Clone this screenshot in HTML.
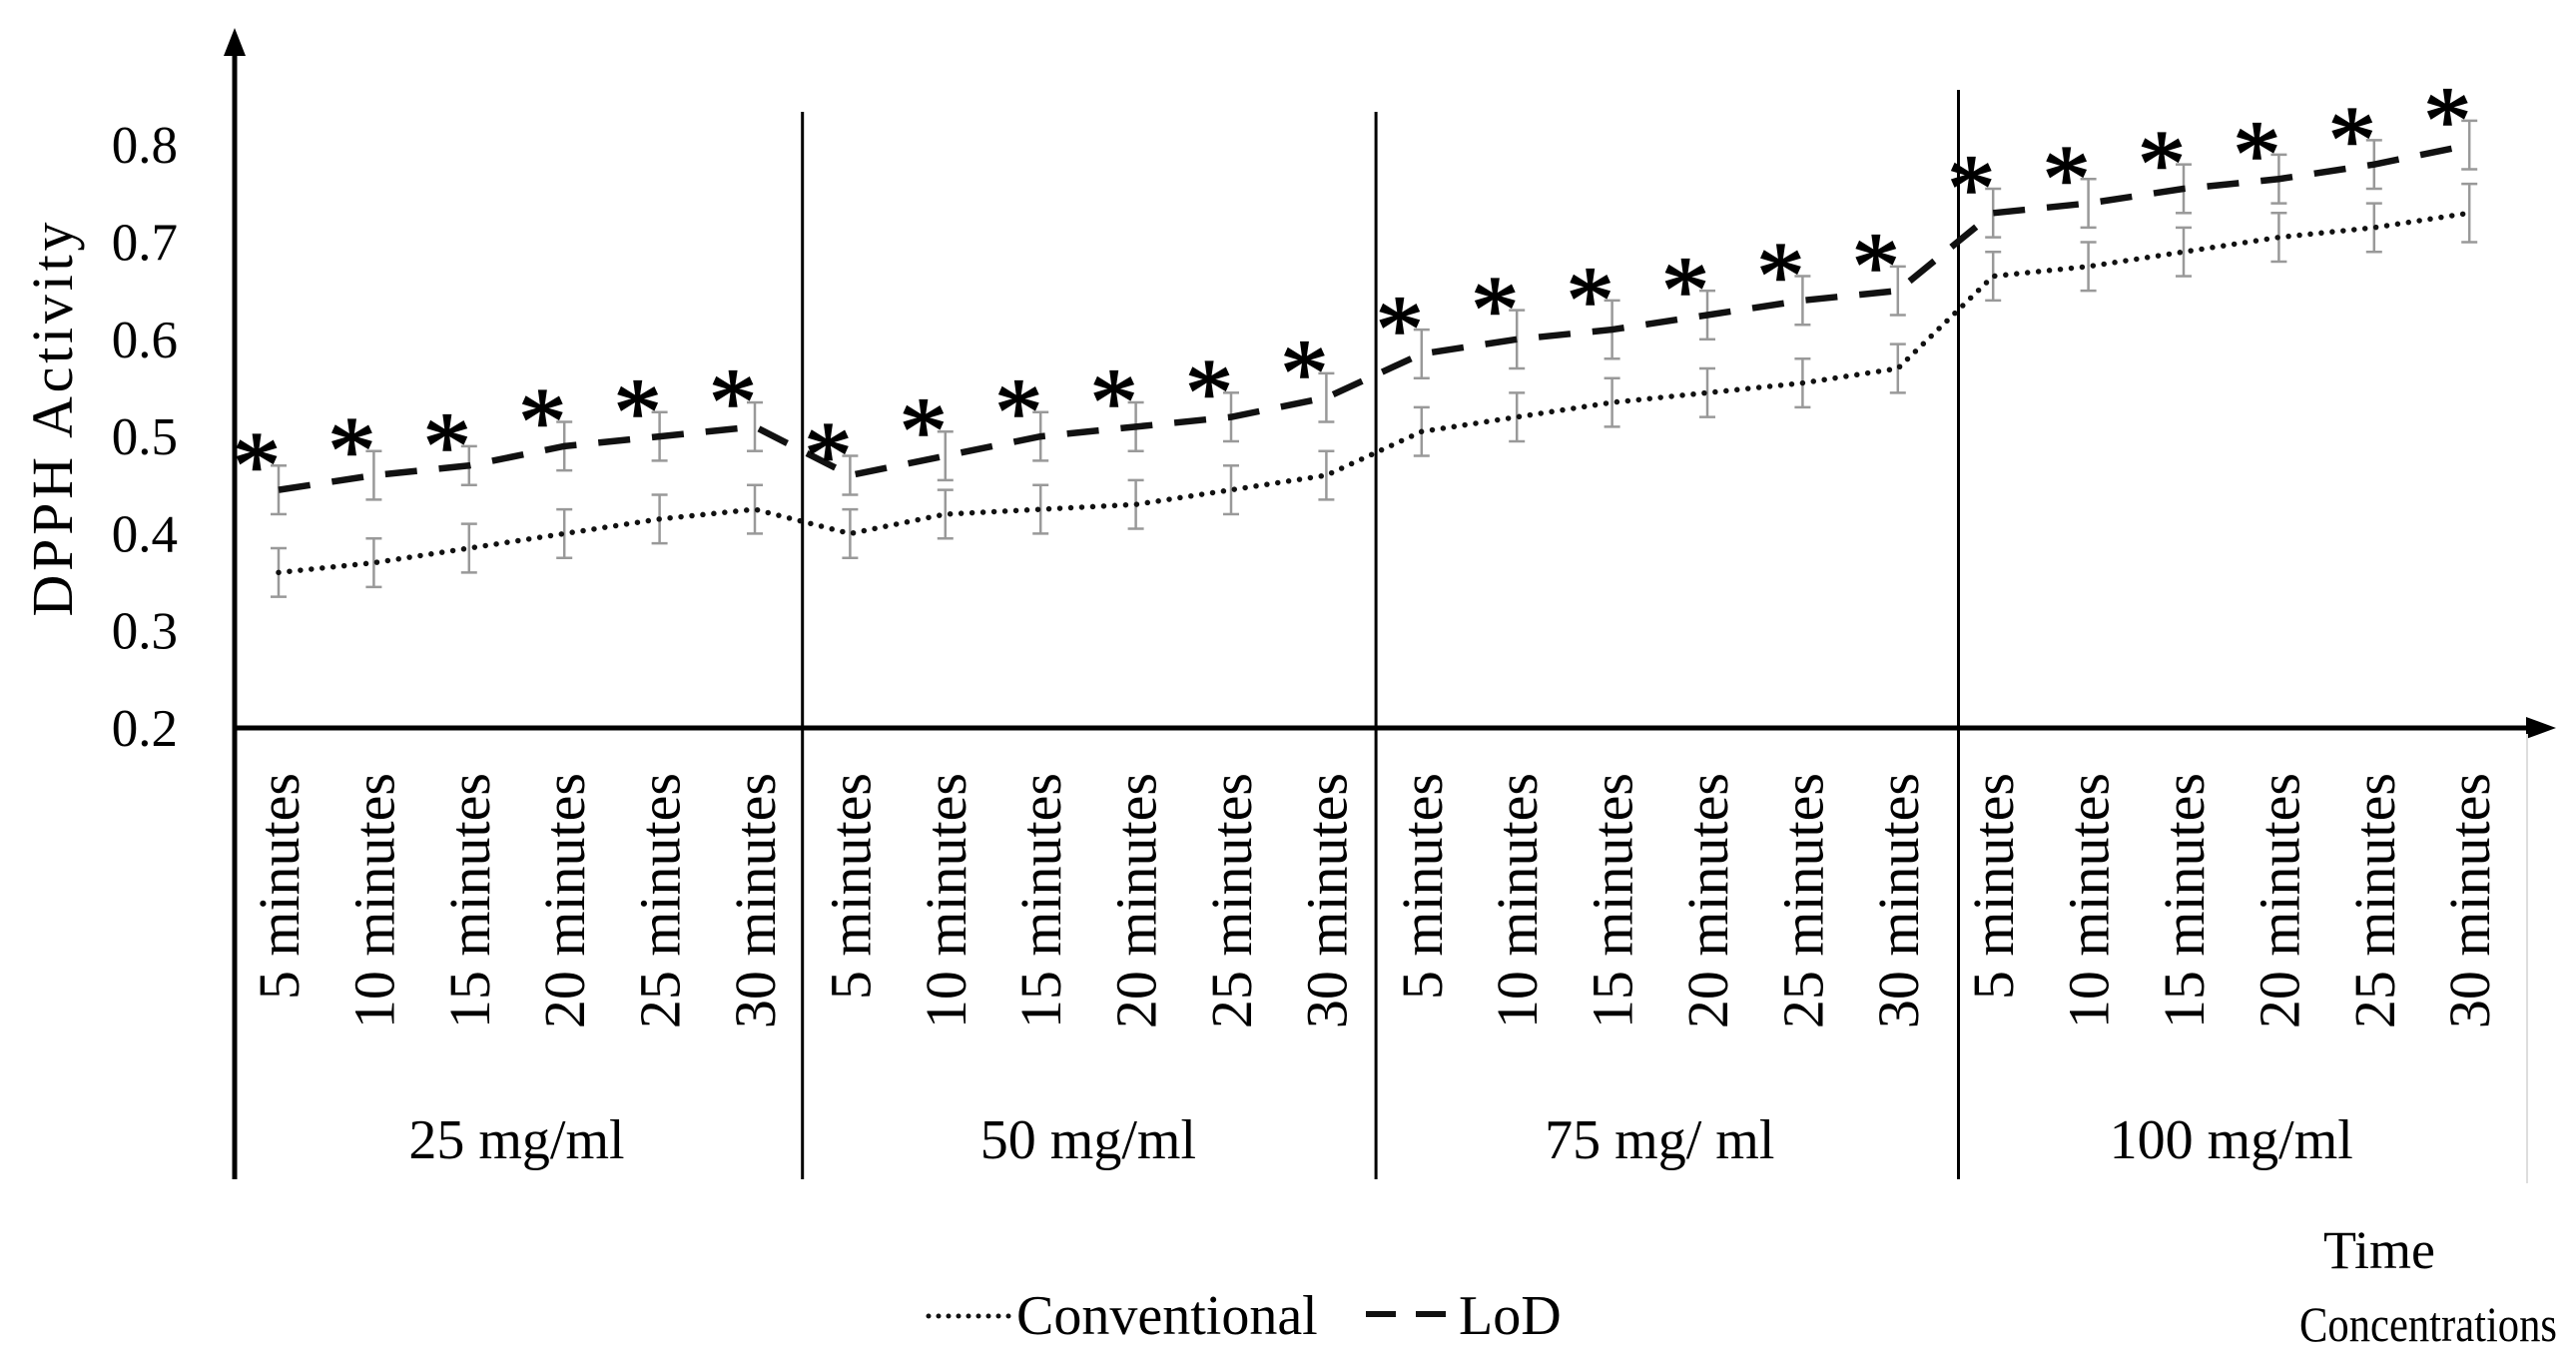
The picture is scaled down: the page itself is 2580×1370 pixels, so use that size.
<!DOCTYPE html>
<html><head><meta charset="utf-8"><style>
html,body{margin:0;padding:0;background:#fff}
svg{display:block;font-family:"Liberation Serif",serif}
</style></head><body>
<svg id="chart" width="2580" height="1370" viewBox="0 0 2580 1370">
<g id="axes"></g>
<g id="marks"></g>
<g id="labels"></g>
<g>
<line x1="930" y1="1318" x2="1012" y2="1318" stroke="#111" stroke-width="5" stroke-linecap="round" stroke-dasharray="0 10"/>
<text x="1018" y="1336" font-size="56">Conventional</text>
<line x1="1368" y1="1316" x2="1450" y2="1316" stroke="#111" stroke-width="6" stroke-dasharray="30 20"/>
<text x="1461" y="1336" font-size="56">LoD</text>
</g>
<text x="2383" y="1270" font-size="54" text-anchor="middle">Time</text>
<text x="2432" y="1343" font-size="50" text-anchor="middle" textLength="258" lengthAdjust="spacingAndGlyphs">Concentrations</text>
<text transform="translate(72,420) rotate(-90)" font-size="58" text-anchor="middle" textLength="395">DPPH  Activity</text>
</svg>
<script>
const times = ["5 minutes","10 minutes","15 minutes","20 minutes","25 minutes","30 minutes"];
const groups = ["25 mg/ml","50 mg/ml","75 mg/ ml","100 mg/ml"];
const lod = [0.445,0.46,0.47,0.49,0.50,0.51, 0.46,0.48,0.50,0.51,0.52,0.54, 0.585,0.60,0.61,0.625,0.64,0.65, 0.73,0.74,0.755,0.765,0.78,0.80];
const conventional = [0.36,0.37,0.385,0.40,0.415,0.425, 0.40,0.42,0.425,0.43,0.445,0.46, 0.505,0.52,0.535,0.545,0.555,0.57, 0.665,0.675,0.69,0.705,0.715,0.73];
const lodErr = [0.025,0.025,0.02,0.025,0.025,0.025, 0.02,0.025,0.025,0.025,0.025,0.025, 0.025,0.03,0.03,0.025,0.025,0.025, 0.025,0.025,0.025,0.025,0.025,0.025];
const convErr = [0.025,0.025,0.025,0.025,0.025,0.025, 0.025,0.025,0.025,0.025,0.025,0.025, 0.025,0.025,0.025,0.025,0.025,0.025, 0.025,0.025,0.025,0.025,0.025,0.03];
const yTicks = [0.2,0.3,0.4,0.5,0.6,0.7,0.8];

const NS="http://www.w3.org/2000/svg";
const X0=279, DX=95.4, Y0=729, PER=973;
const xs=i=>X0+i*DX;
const ys=v=>Y0-(v-0.2)*PER;
function mk(tag,attrs,parent){const e=document.createElementNS(NS,tag);for(const k in attrs)e.setAttribute(k,attrs[k]);parent.appendChild(e);return e;}
const axes=document.getElementById('axes'),marks=document.getElementById('marks'),labels=document.getElementById('labels');

let e;
e=mk('line',{x1:235,y1:1181,x2:235,y2:50,stroke:'#000','stroke-width':5},axes);


e=mk('polygon',{points:'224,56 246,56 235,28'},axes);


e=mk('line',{x1:235,y1:Y0,x2:2535,y2:Y0,stroke:'#000','stroke-width':5},axes);


e=mk('polygon',{points:'2530,718 2530,740 2560,729'},axes);


e=mk('line',{x1:2531,y1:735,x2:2531,y2:1185,stroke:'#ddd','stroke-width':2},axes);



yTicks.forEach(t=>{
  const el=mk('text',{x:178,y:ys(t)+18,'font-size':53,'text-anchor':'end'},axes);
  el.textContent=t.toFixed(1);
  
  
});

const divTops=[112,112,90];
const divShift=[0,2,13];
for(let g=1;g<4;g++){
  const x=(xs(g*6-1)+xs(g*6))/2+divShift[g-1];
  const el=mk('line',{x1:x,y1:divTops[g-1],x2:x,y2:1181,stroke:'#000','stroke-width':3},axes);
  
  
}

groups.forEach((g,gi)=>{
  const cx=(xs(gi*6)+xs(gi*6+5))/2;
  const el=mk('text',{x:cx,y:1160,'font-size':56,'text-anchor':'middle'},labels);
  el.textContent=g;
  
  
  times.forEach((t,ti)=>{
    const x=xs(gi*6+ti)+20;
    const tl=mk('text',{transform:`translate(${x},774) rotate(-90)`,'font-size':58,'text-anchor':'end'},labels);
    tl.textContent=t;
    
    
  });
});

function errbars(vals,errs,name){
  vals.forEach((v,i)=>{
    const x=xs(i),t=ys(v+errs[i]),b=ys(v-errs[i]);
    const g=mk('g',{stroke:'#999','stroke-width':2.5},marks);
    
    
    mk('line',{x1:x,y1:t,x2:x,y2:b},g);
    mk('line',{x1:x-8,y1:t,x2:x+8,y2:t},g);
    mk('line',{x1:x-8,y1:b,x2:x+8,y2:b},g);
  });
}
errbars(conventional,convErr,'conventional-error-bar');
errbars(lod,lodErr,'lod-error-bar');

e=mk('polyline',{points:conventional.map((v,i)=>xs(i)+','+ys(v)).join(' '),fill:'none',stroke:'#111','stroke-width':5.5,'stroke-linecap':'round','stroke-dasharray':'0 11'},marks);


e=mk('polyline',{points:lod.map((v,i)=>xs(i)+','+ys(v)).join(' '),fill:'none',stroke:'#111','stroke-width':6.5,'stroke-dasharray':'32 22'},marks);



lod.forEach((v,i)=>{
  const st=mk('text',{x:xs(i)-22,y:ys(v+lodErr[i])+32,'font-size':96,'text-anchor':'middle',stroke:'#000','stroke-width':1.5},marks);
  st.textContent='*';
  
  
});
</script>
</body></html>
